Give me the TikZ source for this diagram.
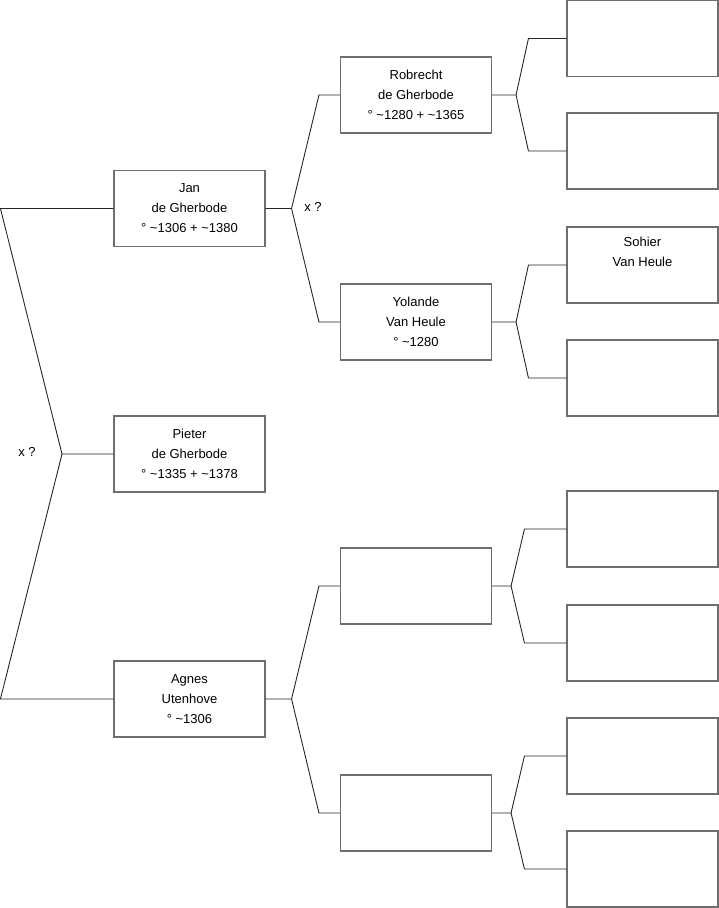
\documentclass[tikz,border=0pt]{standalone}
\usepackage{fontspec}
\setmainfont{Liberation Sans}
\definecolor{boxgray}{RGB}{110,110,110}
\begin{document}
\begin{tikzpicture}[x=1pt,y=-1pt,
  person/.style={draw=boxgray,line width=1.1pt,fill=white,minimum width=151pt,minimum height=76pt,
    inner sep=0pt,align=center,font=\fontsize{13}{20}\selectfont},
  conn/.style={draw=black!85,line width=0.9pt},
  lbl/.style={font=\fontsize{13}{14}\selectfont,inner sep=0pt}]
\useasboundingbox (0,0) rectangle (719,908);
% generation 1
\node[person] (jan)    at (189.5,208.5) {Jan\\de Gherbode\\° \textasciitilde1306 + \textasciitilde1380};
\node[person] (pieter) at (189.5,454) {Pieter\\de Gherbode\\° \textasciitilde1335 + \textasciitilde1378};
\node[person] (agnes)  at (189.5,699) {Agnes\\Utenhove\\° \textasciitilde1306};
% generation 2
\node[person] (rob) at (416,95) {Robrecht\\de Gherbode\\° \textasciitilde1280 + \textasciitilde1365};
\node[person] (yol) at (416,322) {Yolande\\Van Heule\\° \textasciitilde1280};
\node[person] (e1)  at (416,586) {};
\node[person] (e2)  at (416,813) {};
% generation 3
\node[person] (r1) at (642.5,38.5) {};
\node[person] (r2) at (642.5,151) {};
\node[person] (r3) at (642.5,265) {Sohier\\Van Heule\\\strut};
\node[person] (r4) at (642.5,378) {};
\node[person] (r5) at (642.5,529) {};
\node[person] (r6) at (642.5,643) {};
\node[person] (r7) at (642.5,756) {};
\node[person] (r8) at (642.5,869) {};
% left fork
\coordinate (p1) at (62,454);
\draw[conn] (jan.west) -- ++(-113,0) coordinate (p0) -- (p1) -- (pieter.west);
\draw[conn] (p1) -- ([xshift=-113]agnes.west) coordinate (p2) -- (agnes.west);
\node[lbl] (x1) at (27,452) {x ?};
% gen1 -> gen2
\draw[conn] (jan.east) -- ++(26,0) coordinate (fj) -- ([xshift=-21]rob.west) -- (rob.west);
\draw[conn] (fj) -- ([xshift=-21]yol.west) -- (yol.west);
\node[lbl] (x2) at (313,207) {x ?};
\draw[conn] (agnes.east) -- ++(26,0) coordinate (fa) -- ([xshift=-21]e1.west) -- (e1.west);
\draw[conn] (fa) -- ([xshift=-21]e2.west) -- (e2.west);
% gen2 -> gen3
\draw[conn] (rob.east) -- ++(24,0) coordinate (fr) -- ([xshift=-38]r1.west) -- (r1.west);
\draw[conn] (fr) -- ([xshift=-38]r2.west) -- (r2.west);
\draw[conn] (yol.east) -- ++(24,0) coordinate (fy) -- ([xshift=-38]r3.west) -- (r3.west);
\draw[conn] (fy) -- ([xshift=-38]r4.west) -- (r4.west);
\draw[conn] (e1.east) -- ++(19,0) coordinate (fe1) -- ([xshift=-42]r5.west) -- (r5.west);
\draw[conn] (fe1) -- ([xshift=-42]r6.west) -- (r6.west);
\draw[conn] (e2.east) -- ++(19,0) coordinate (fe2) -- ([xshift=-42]r7.west) -- (r7.west);
\draw[conn] (fe2) -- ([xshift=-42]r8.west) -- (r8.west);
\end{tikzpicture}
\end{document}
